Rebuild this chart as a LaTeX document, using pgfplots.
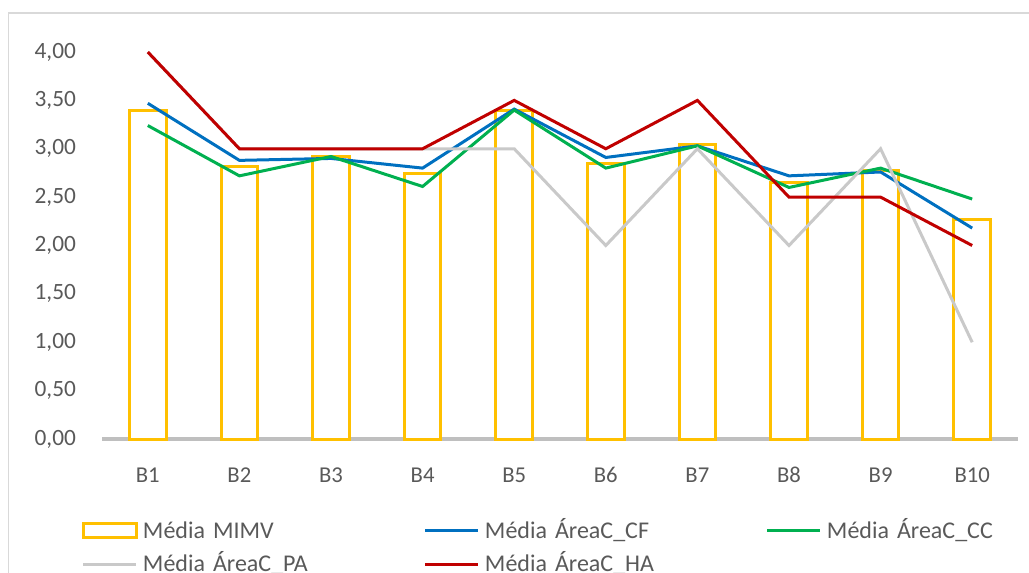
\documentclass[border=0pt]{standalone}
\usepackage{pgfplots}
\pgfplotsset{compat=1.18}
\usepackage{fontspec}
\setmainfont{Carlito}
\definecolor{barcol}{HTML}{FFC000}
\definecolor{cfcol}{HTML}{0070C0}
\definecolor{cccol}{HTML}{00B050}
\definecolor{pacol}{HTML}{C9C9C9}
\definecolor{hacol}{HTML}{C00000}
\definecolor{axcol}{HTML}{BFBFBF}
\definecolor{txtcol}{HTML}{595959}
\definecolor{framecol}{HTML}{D9D9D9}
\begin{document}
\begin{tikzpicture}
\useasboundingbox (0,0) rectangle (771.75pt,-429pt);
\draw[framecol, line width=1.1pt] (6.5pt,-440pt) -- (6.5pt,-9.9pt) -- (790pt,-9.9pt);
\begin{axis}[
  at={(76.5pt,-329.25pt)}, anchor=south west,
  scale only axis, width=687pt, height=290.25pt,
  xmin=0.5, xmax=10.5, ymin=0, ymax=4,
  clip=false,
  axis x line=bottom, axis y line=left,
  x axis line style={draw=axcol, line width=2.6pt, -},
  y axis line style={draw=none},
  tick style={draw=none},
  xtick={1,...,10},
  xticklabels={B1,B2,B3,B4,B5,B6,B7,B8,B9,B10},
  ytick={0,0.5,...,4},
  /pgf/number format/.cd, fixed, fixed zerofill, precision=2, use comma, assume math mode=true,
  /pgfplots/.cd,
  yticklabel style={font=\fontsize{17.5}{20}\selectfont, text=txtcol, inner sep=0pt, anchor=east, xshift=-17.25pt},
  xticklabel style={font=\fontsize{17}{19}\selectfont, text=txtcol, inner sep=0pt, text height=11pt, text depth=0pt, anchor=north, yshift=-19.5pt},
  legend image code/.code={\draw[#1] (0pt,0pt) -- (39.75pt,0pt);},
  legend cell align=left,
  legend columns=3,
  legend style={at={(-0.02183,-0.2152)}, anchor=north west, draw=none, fill=none,
    inner sep=0pt, outer sep=0pt, row sep=12.8pt,
    nodes={inner sep=0pt, text height=11.6pt, text depth=0pt, text width=210.75pt,
      font=\fontsize{18}{21}\selectfont, text=txtcol},
    /tikz/every odd column/.append style={column sep=3.75pt}},
]
\addplot[ybar, bar width=27.5pt, draw=barcol, fill=white, line width=2.25pt,
  legend image code/.code={\draw[draw=barcol, fill=white, line width=2.25pt] (0pt,-5.25pt) rectangle (39.75pt,5.25pt);}]
  coordinates {(1,3.40) (2,2.82) (3,2.92) (4,2.74) (5,3.40) (6,2.85) (7,3.04) (8,2.65) (9,2.78) (10,2.27)};
\addlegendentry{Média MIMV}
\addplot[cfcol, line width=2.25pt]
  coordinates {(1,3.47) (2,2.88) (3,2.90) (4,2.80) (5,3.41) (6,2.91) (7,3.03) (8,2.72) (9,2.76) (10,2.18)};
\addlegendentry{Média ÁreaC\_CF}
\addplot[cccol, line width=2.25pt]
  coordinates {(1,3.24) (2,2.72) (3,2.92) (4,2.61) (5,3.40) (6,2.80) (7,3.03) (8,2.60) (9,2.80) (10,2.48)};
\addlegendentry{Média ÁreaC\_CC}
\addplot[pacol, line width=2.25pt]
  coordinates {(1,4.00) (2,3.00) (3,3.00) (4,3.00) (5,3.00) (6,2.00) (7,3.00) (8,2.00) (9,3.00) (10,1.00)};
\addlegendentry{Média ÁreaC\_PA}
\addplot[hacol, line width=2.25pt]
  coordinates {(1,4.00) (2,3.00) (3,3.00) (4,3.00) (5,3.50) (6,3.00) (7,3.50) (8,2.50) (9,2.50) (10,2.00)};
\addlegendentry{Média ÁreaC\_HA}
\end{axis}
\end{tikzpicture}
\end{document}
